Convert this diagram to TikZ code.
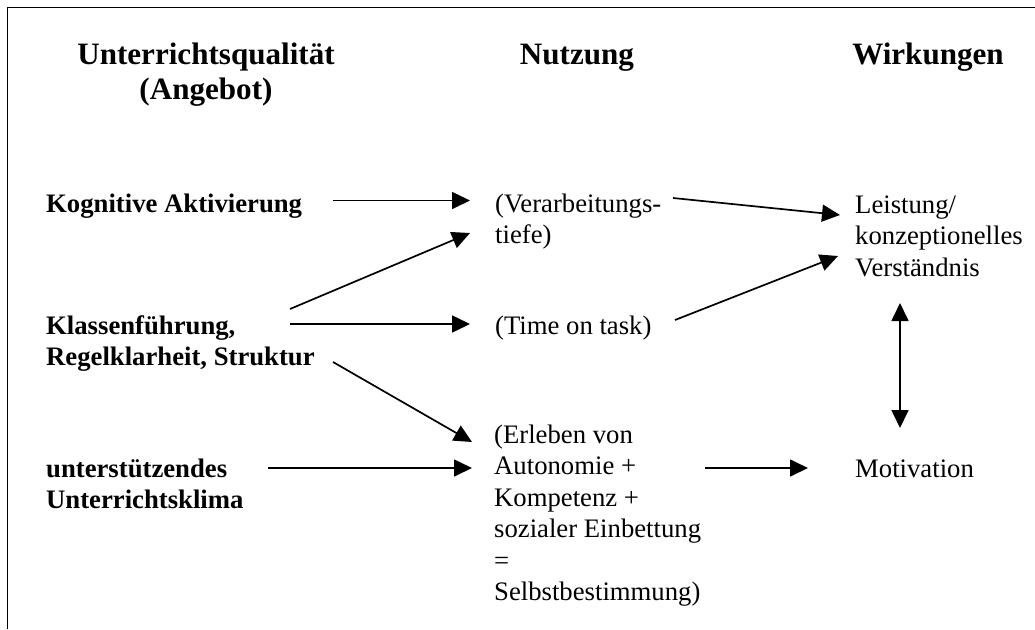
\documentclass[tikz,border=0pt]{standalone}
\usepackage{fontspec}
\setmainfont{Liberation Serif}
\usetikzlibrary{arrows.meta}
\begin{document}
\begin{tikzpicture}[x=1pt,y=-1pt,
  title/.style={font=\fontsize{31.1}{35}\selectfont\bfseries, align=center, anchor=base, inner sep=0pt},
  lbl/.style={font=\fontsize{26.7}{31.5}\selectfont, align=left, anchor=base west, inner sep=0pt},
  blbl/.style={lbl, font=\fontsize{26.7}{31.5}\selectfont\bfseries},
  arr/.style={line width=1.7pt, -{Triangle[length=18pt,width=17pt]}},
  darr/.style={line width=1.7pt, {Triangle[length=18pt,width=17pt]}-{Triangle[length=18pt,width=17pt]}},
  frame/.style={line width=1.5pt}
]
\useasboundingbox (0,0) rectangle (1035,629);
% frame
\coordinate (fb) at (7.5,629);
\coordinate (fc) at (7.5,7.5);
\coordinate (fr) at (1035,7.5);
\draw[frame] (fb) -- (fc) -- (fr);

% titles (multi-line nodes are placed by the baseline of their last line)
\node[title] (t1) at (206,99) {Unterrichtsqualität\\(Angebot)};
\node[title] (t2) at (577,64) {Nutzung};
\node[title] (t3) at (928,64) {Wirkungen};

% left column
\node[blbl] (ka) at (46,212) {Kognitive Aktivierung};
\node[blbl] (kf) at (46,365.5) {Klassenführung,\\Regelklarheit, Struktur};
\node[blbl] (uk) at (46,508.5) {unterstützendes\\Unterrichtsklima};

% middle column
\node[lbl] (vt) at (495,243.5) {(Verarbeitungs-\\tiefe)};
\node[lbl] (tt) at (495,334) {(Time on task)};
\node[lbl] (er) at (494,600.5) {(Erleben von\\Autonomie +\\Kompetenz +\\sozialer Einbettung\\=\\Selbstbestimmung)};

% right column
\node[lbl] (le) at (855,276) {Leistung/\\konzeptionelles\\Verständnis};
\node[lbl] (mo) at (855,477) {Motivation};

% connector end points
\coordinate (ka1) at (333,200.5);  \coordinate (vt1) at (470,200.5);
\coordinate (kf1) at (290,309);    \coordinate (vt2) at (470,233);
\coordinate (kf2) at (290,324);    \coordinate (tt1) at (470,324);
\coordinate (kf3) at (333,362);    \coordinate (er1) at (472,442);
\coordinate (uk1) at (268,468);    \coordinate (er2) at (472,468);
\coordinate (er3) at (705,468);    \coordinate (mo1) at (808,468);
\coordinate (vt3) at (673,198);    \coordinate (le1) at (840,215);
\coordinate (tt2) at (675,320);    \coordinate (le2) at (838,256);
\coordinate (le3) at (900,303);    \coordinate (mo2) at (900,428);

\draw[arr] (ka1) -- (vt1);
\draw[arr] (kf1) -- (vt2);
\draw[arr] (kf2) -- (tt1);
\draw[arr] (kf3) -- (er1);
\draw[arr] (uk1) -- (er2);
\draw[arr] (er3) -- (mo1);
\draw[arr] (vt3) -- (le1);
\draw[arr] (tt2) -- (le2);
\draw[darr] (le3) -- (mo2);
\end{tikzpicture}
\end{document}
